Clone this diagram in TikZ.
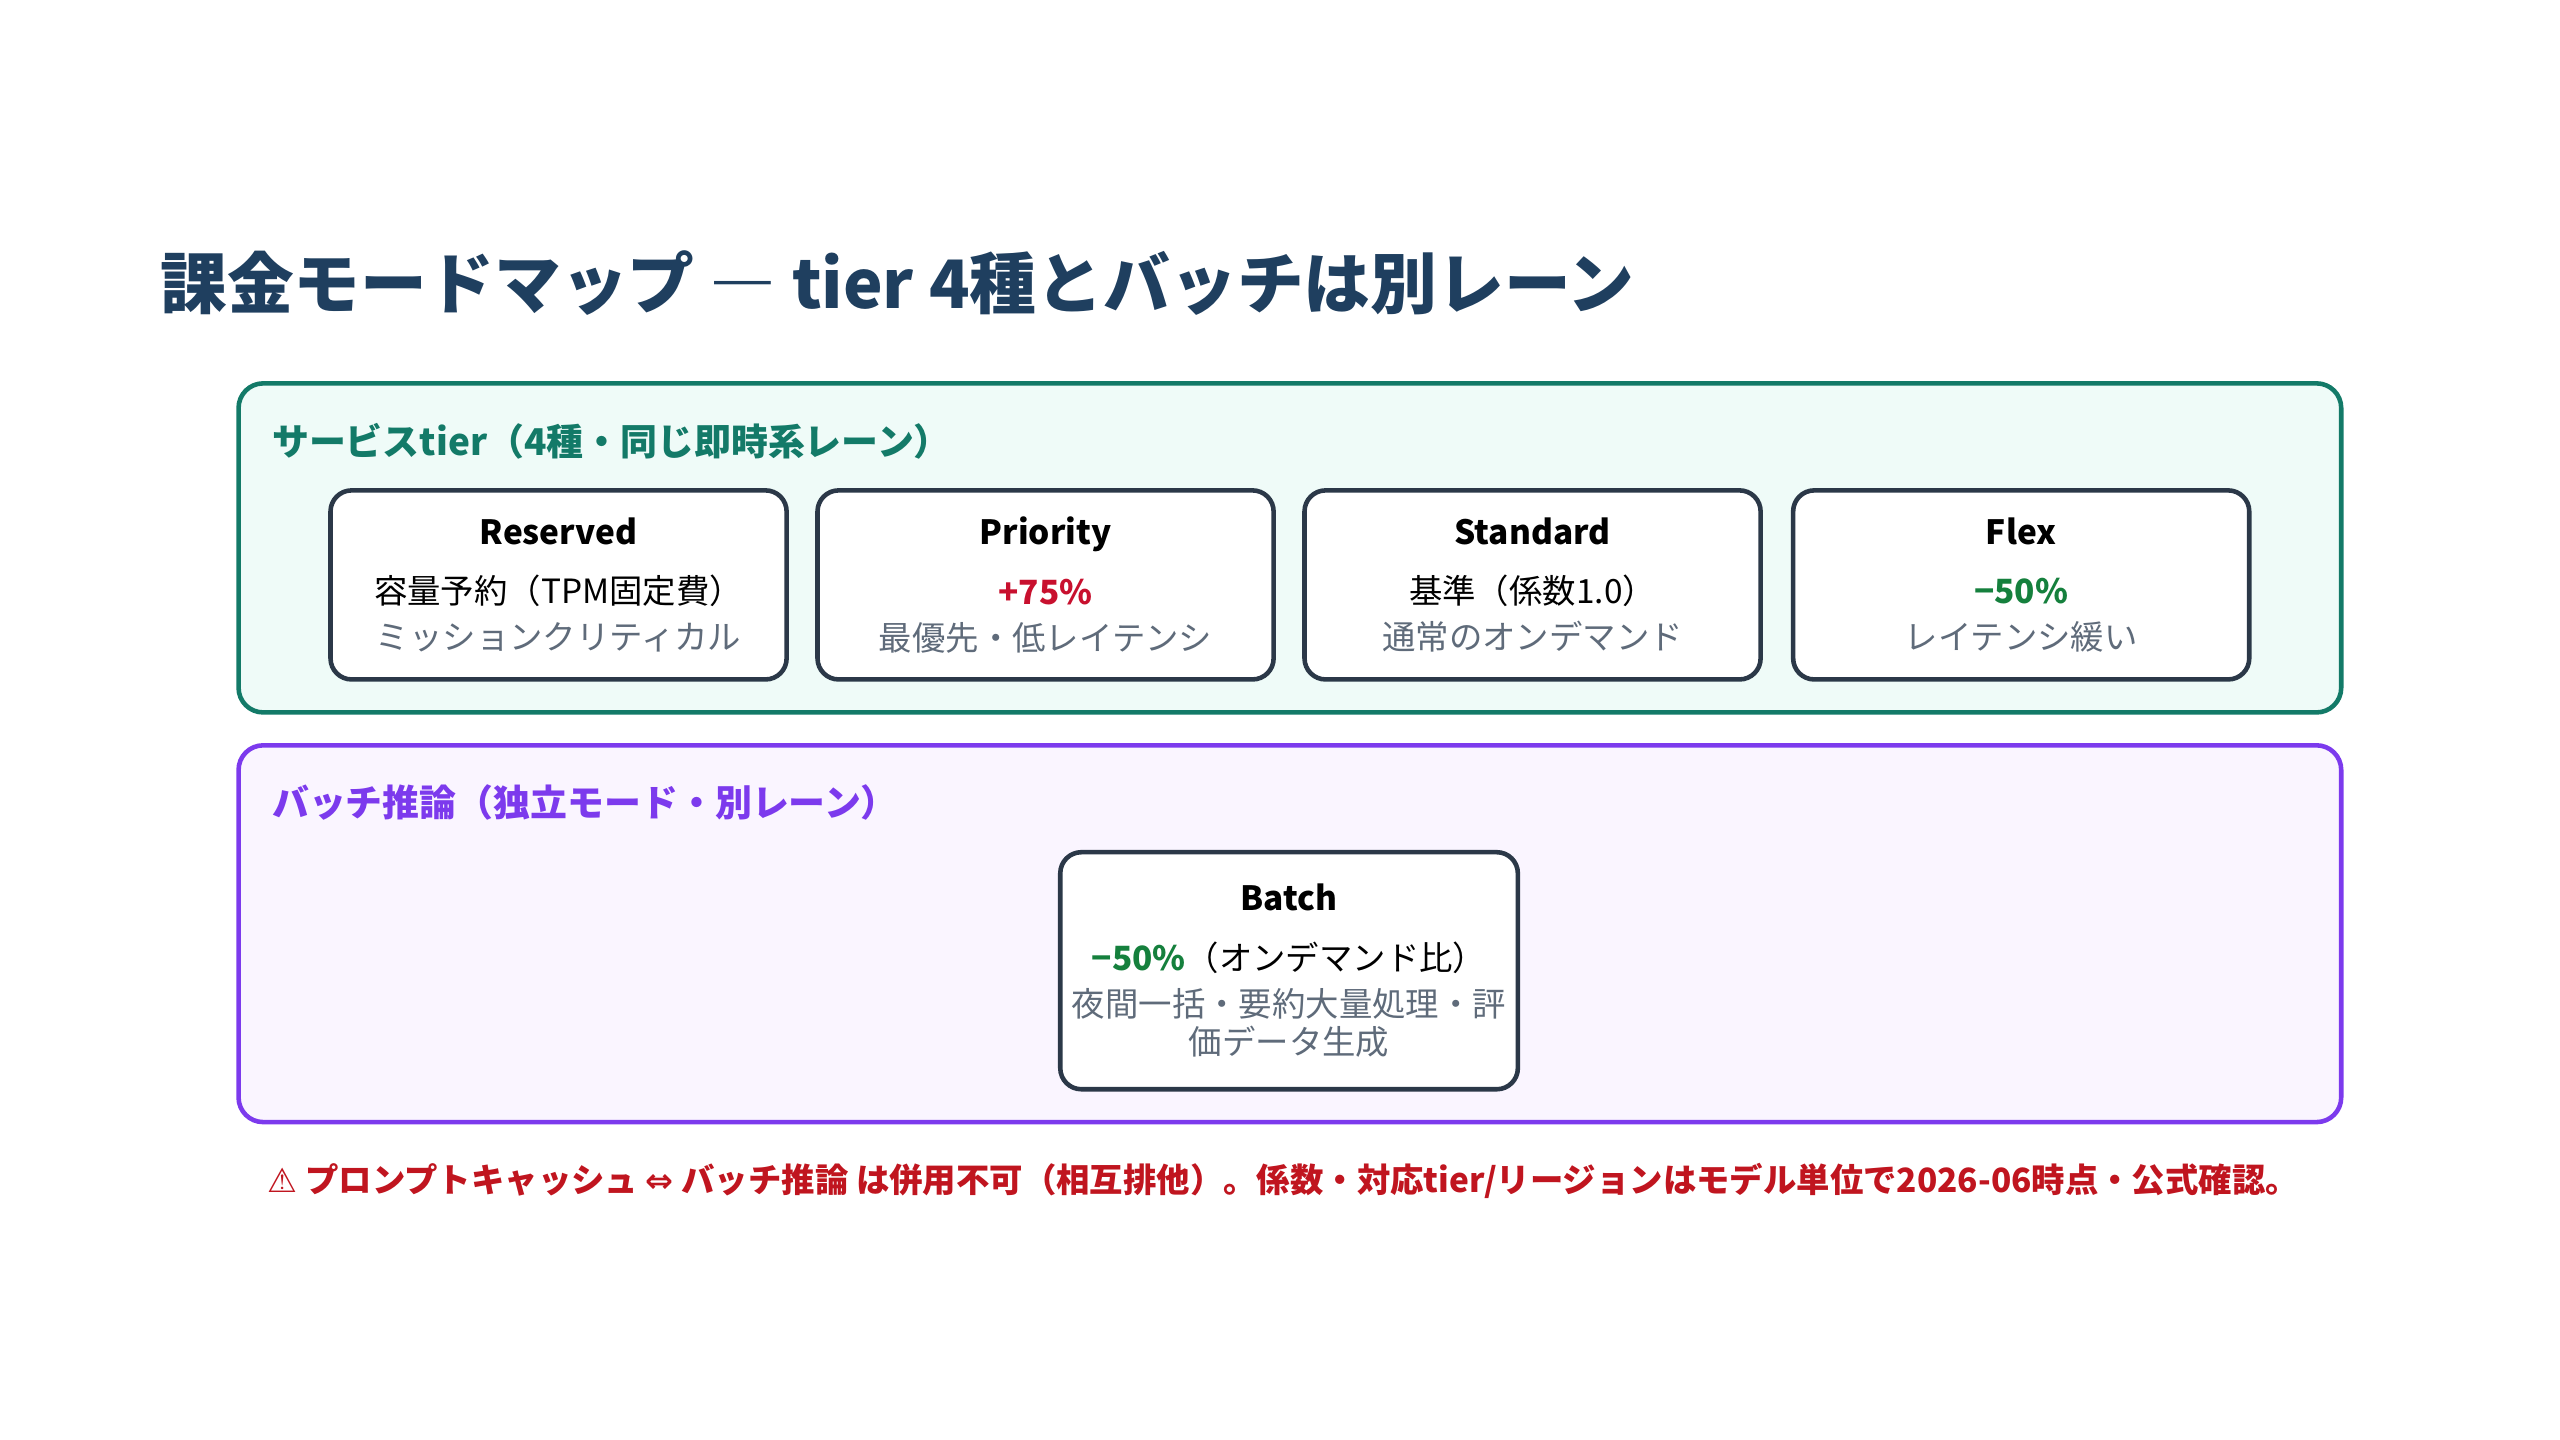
\documentclass[tikz,border=0pt]{standalone}
\usepackage{fontspec}
\setmainfont{Noto Sans CJK JP}
\newfontfamily\symfont{DejaVu Sans}
\usetikzlibrary{positioning}
\definecolor{titleblue}{HTML}{1F3F5F}
\definecolor{tealc}{HTML}{137A68}
\definecolor{tealbg}{HTML}{EFFBF8}
\definecolor{purplec}{HTML}{7C3AED}
\definecolor{purplebg}{HTML}{FAF5FF}
\definecolor{cardline}{HTML}{2B3848}
\definecolor{subgray}{HTML}{5F6B7A}
\definecolor{upred}{HTML}{C8102E}
\definecolor{downgreen}{HTML}{15803D}
\definecolor{warnred}{HTML}{C0151F}
\tikzset{
	lane/.style={draw, line width=1.3pt, rounded corners=7pt},
	lanelabel/.style={anchor=west, font=\bfseries\fontsize{10.5}{12}\selectfont, inner sep=0},
	card/.style={draw=cardline, line width=1.3pt, rounded corners=6pt, fill=white,
		minimum width=4.56cm, minimum height=1.89cm, align=center,
		font=\fontsize{9.5}{15}\selectfont},
	cardtitle/.style={font=\bfseries\fontsize{10}{12}\selectfont}
}
\begin{document}
\begin{tikzpicture}[x=0.01645cm, y=-0.01645cm]
	\useasboundingbox (0,0) rectangle (1556,875);

	%% title
	\node[anchor=west, inner sep=0, text=titleblue, font=\bfseries\fontsize{19}{23}\selectfont] (title) at (97,172) {課金モードマップ ― tier 4種とバッチは別レーン};

	%% tier lane
	\draw[lane, draw=tealc, fill=tealbg] (145,233) rectangle (1423,433);
	\node[lanelabel, text=tealc] (tierlabel) at (165,268) {サービスtier（4種・同じ即時系レーン）};

	\node[card] (reserved) at (339.5,355.5) {{\bfseries Reserved}\\[2pt]容量予約（TPM固定費）\\[-2pt]{\color{subgray}ミッションクリティカル}};
	\node[card] (priority) at (635.5,355.5) {{\bfseries Priority}\\[2pt]{\color{upred}\bfseries +75\%}\\[-2pt]{\color{subgray}最優先・低レイテンシ}};
	\node[card] (standard) at (931.5,355.5) {{\bfseries Standard}\\[2pt]基準（係数1.0）\\[-2pt]{\color{subgray}通常のオンデマンド}};
	\node[card] (flex) at (1228.5,355.5) {{\bfseries Flex}\\[2pt]{\color{downgreen}\bfseries −50\%}\\[-2pt]{\color{subgray}レイテンシ緩い}};

	%% batch lane
	\draw[lane, draw=purplec, fill=purplebg] (145,453) rectangle (1423,682);
	\node[lanelabel, text=purplec] (batchlabel) at (165,488) {バッチ推論（独立モード・別レーン）};

	\node[card, minimum height=2.37cm] (batch) at (783.5,590) {{\bfseries Batch}\\[2pt]{\color{downgreen}\bfseries −50\%}（オンデマンド比）\\[-2pt]{\color{subgray}夜間一括・要約大量処理・評}\\[-4pt]{\color{subgray}価データ生成}};

	%% footnote
	\node[text=warnred, font=\bfseries\fontsize{9.5}{12}\selectfont, inner sep=0] (note) at (780,718) {{\symfont ⚠} プロンプトキャッシュ {\symfont ⇔} バッチ推論 は併用不可（相互排他）。係数・対応tier/リージョンはモデル単位で2026-06時点・公式確認。};
\end{tikzpicture}
\end{document}
